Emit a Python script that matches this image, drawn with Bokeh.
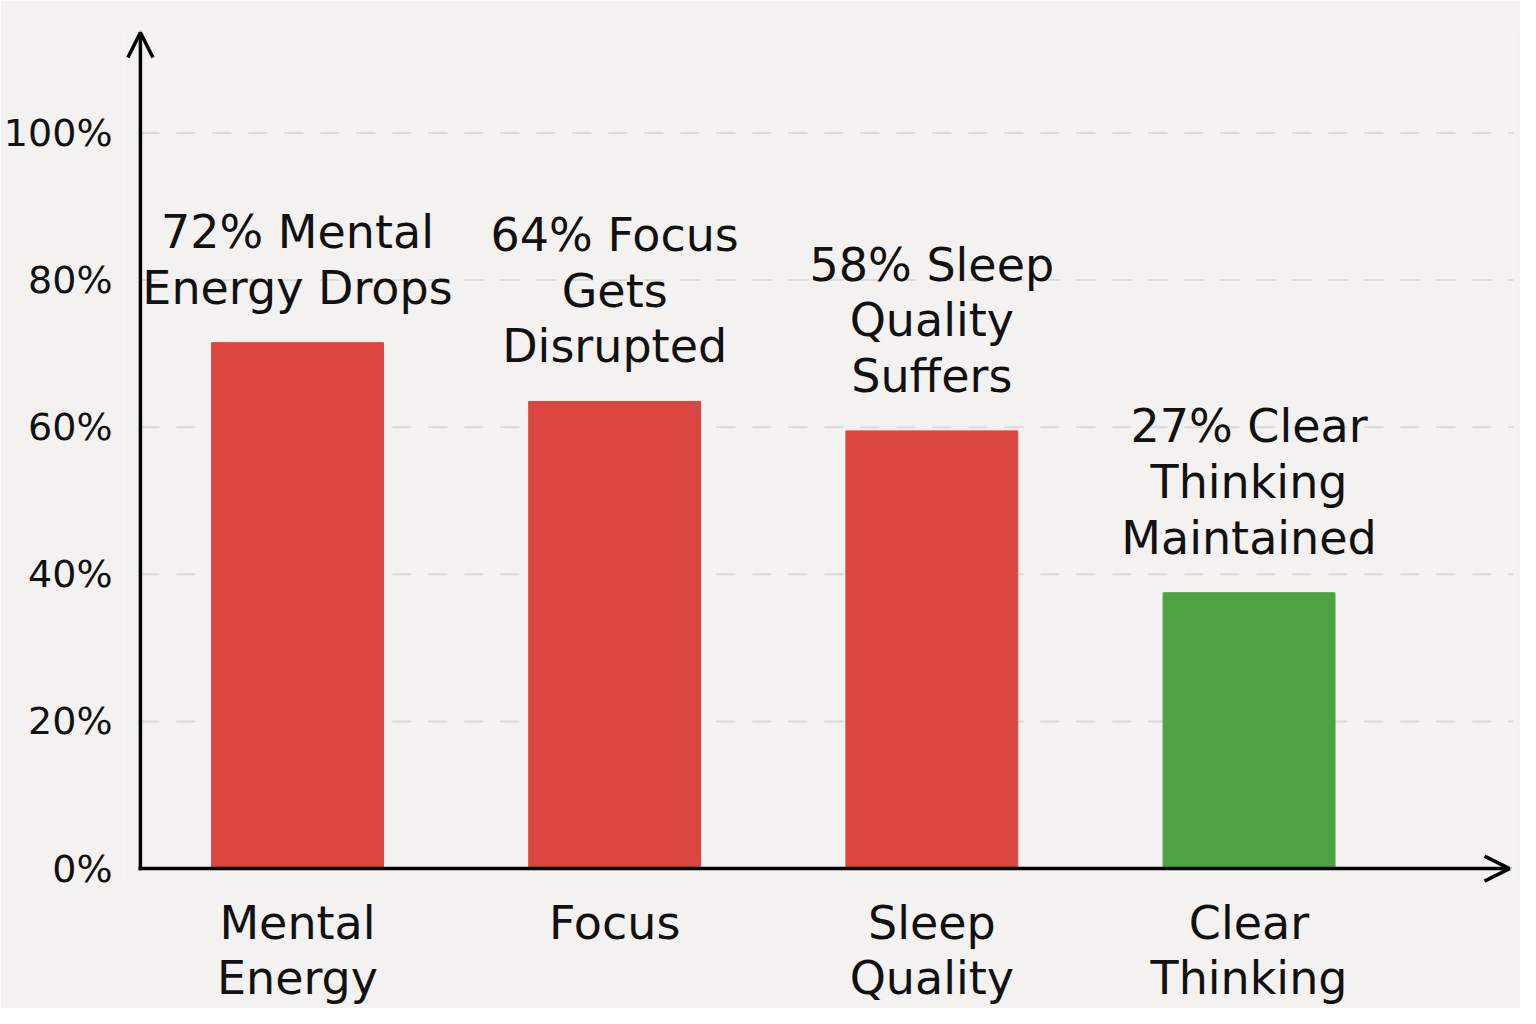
from bokeh.plotting import figure
from bokeh.models import Range1d, FixedTicker, Arrow, OpenHead, ColumnDataSource
from bokeh.embed import file_html
from bokeh.resources import INLINE
from bokeh.core.properties import value

# ---- data ----
categories = ["Mental\nEnergy", "Focus", "Sleep\nQuality", "Clear\nThinking"]
values = [71.5, 63.5, 59.5, 37.5]
bar_labels = [
    "72% Mental\nEnergy Drops",
    "64% Focus\nGets\nDisrupted",
    "58% Sleep\nQuality\nSuffers",
    "27% Clear\nThinking\nMaintained",
]
bar_colors = ["#dc4641", "#dc4641", "#dc4641", "#4ca33f"]
y_ticks = [0, 20, 40, 60, 80, 100]
y_tick_labels = ["0%", "20%", "40%", "60%", "80%", "100%"]

xs = list(range(len(categories)))
src = ColumnDataSource(dict(x=xs, top=values, label=bar_labels, color=bar_colors))

BG = "#f3f2f1"
FONT = "DejaVu Sans"
INK = "#111111"

# ---- layout (canvas pixels) ----
W, H = 1520, 1008
FRAME_L, FRAME_R = 116, 1513      # frame edges inside canvas
FRAME_T, FRAME_B = 28, 888
AXIS_X_PX = 132                    # y-axis line position
AXIS_Y_PX = 872                    # x-axis line position
TIP_X_PX, TIP_Y_PX = 1509, 32      # arrow tips
FIRST_BAR_PX, STEP_PX = 290, 319   # category spacing
Y100_PX = 133                      # pixel of 100 %
ppu = (AXIS_Y_PX - Y100_PX) / 100.0

def xd(px):
    return (px - FIRST_BAR_PX) / STEP_PX

def yd(py):
    return (AXIS_Y_PX - py) / ppu

xr = Range1d(xd(FRAME_L), xd(FRAME_R))
yr = Range1d(yd(FRAME_B), yd(FRAME_T))
axis_x, tip_x = xd(AXIS_X_PX), xd(TIP_X_PX)
tip_y = yd(TIP_Y_PX)

p = figure(width=W, height=H, x_range=xr, y_range=yr,
           output_backend="svg", toolbar_location=None,
           min_border_left=FRAME_L, min_border_right=W - FRAME_R,
           min_border_top=FRAME_T, min_border_bottom=H - FRAME_B)
p.background_fill_color = BG
p.border_fill_color = BG
p.outline_line_color = None
p.xgrid.visible = False
p.ygrid.visible = False

# dashed grid lines from the tick values
grid_src = ColumnDataSource(dict(y=y_ticks[1:]))
p.segment(x0=axis_x, x1=xr.end, y0="y", y1="y", source=grid_src,
          line_color="#d9d9d9", line_width=2, line_dash="19 17", level="underlay")

# bars
p.vbar(x="x", top="top", bottom=0, width=0.542, color="color", source=src)

# bar labels
p.text(x="x", y="top", text="label", source=src,
       text_align="center", text_baseline="bottom", y_offset=-28,
       text_font=value(FONT), text_font_size="46px", text_line_height=1.03,
       text_color=INK)

# axes (tick labels only; lines are drawn as arrows)
for ax in (p.xaxis[0], p.yaxis[0]):
    ax.axis_line_color = None
    ax.major_tick_line_color = None
    ax.minor_tick_line_color = None
    ax.major_label_text_font = FONT
    ax.major_label_text_color = INK

p.xaxis.ticker = FixedTicker(ticks=xs)
p.xaxis.major_label_overrides = {x: c for x, c in zip(xs, categories)}
p.xaxis.major_label_text_font_size = "46px"
p.xaxis.major_label_text_line_height = 1.03
p.xaxis.major_label_standoff = 5

p.yaxis.ticker = FixedTicker(ticks=y_ticks)
p.yaxis.major_label_overrides = {t: l for t, l in zip(y_ticks, y_tick_labels)}
p.yaxis.major_label_text_font_size = "38px"
p.yaxis.major_label_standoff = 6

# axis lines with open arrow heads
for (x1, y1) in ((axis_x, tip_y), (tip_x, 0)):
    p.add_layout(Arrow(end=OpenHead(size=25, line_width=3.5, line_color="black"),
                       x_start=axis_x, y_start=0, x_end=x1, y_end=y1,
                       line_width=3.5, line_color="black", line_cap="square"))

open("out.html", "w").write(file_html(p, INLINE))
